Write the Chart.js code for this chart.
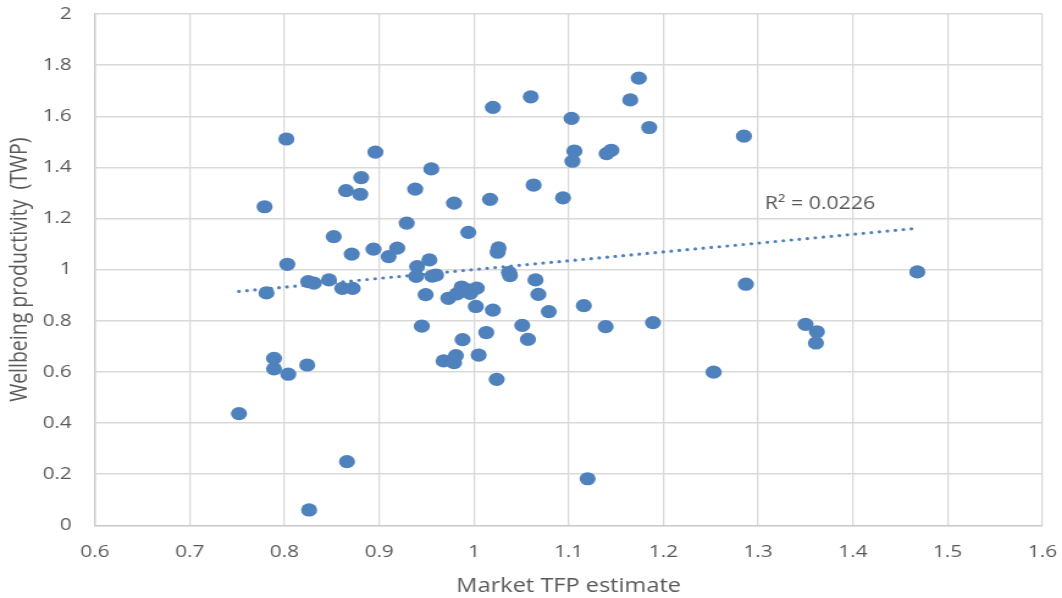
<!DOCTYPE html>
<html>
<head>
<meta charset="utf-8">
<title>Wellbeing productivity vs Market TFP</title>
<script src="https://cdn.jsdelivr.net/npm/chart.js@4.4.1/dist/chart.umd.min.js"></script>
<style>
  html, body { margin: 0; padding: 0; background: #ffffff; overflow: hidden; }
  #wrap { width: 1062px; height: 598px; overflow: hidden; }
  /* the chart is drawn on a narrower canvas and widened, giving the broad markers and text */
  #chart { display: block; transform: scaleX(1.2207); transform-origin: 0 0; }
</style>
</head>
<body>
<div id="wrap"><canvas id="chart" width="870" height="598"></canvas></div>
<script>
// Market TFP estimate (x) and Wellbeing productivity, TWP (y), one entry per observation
const marketTFP = [
  0.752, 0.779, 0.781, 0.789, 0.789, 0.802, 0.803, 0.804, 0.824, 0.825,
  0.831, 0.826, 0.847, 0.852, 0.861, 0.865, 0.866, 0.872, 0.871, 0.881,
  0.880, 0.894, 0.896, 0.910, 0.919, 0.929, 0.938, 0.940, 0.939, 0.945,
  0.949, 0.955, 0.953, 0.956, 0.960, 0.968, 0.973, 0.979, 0.981, 0.979,
  0.982, 0.987, 0.988, 0.994, 0.994, 0.996, 1.003, 1.002, 1.005, 1.013,
  1.017, 1.020, 1.020, 1.024, 1.026, 1.025, 1.037, 1.038, 1.051, 1.057,
  1.060, 1.063, 1.065, 1.068, 1.079, 1.094, 1.103, 1.106, 1.104, 1.116,
  1.120, 1.139, 1.140, 1.145, 1.165, 1.174, 1.185, 1.189, 1.253, 1.285,
  1.287, 1.350, 1.362, 1.361, 1.468
];
const wellbeingTWP = [
  0.437, 1.246, 0.909, 0.653, 0.612, 1.511, 1.021, 0.591, 0.627, 0.953,
  0.947, 0.060, 0.960, 1.129, 0.927, 1.309, 0.249, 0.927, 1.061, 1.360,
  1.295, 1.080, 1.460, 1.051, 1.084, 1.182, 1.315, 1.012, 0.974, 0.779,
  0.902, 1.394, 1.038, 0.975, 0.979, 0.643, 0.888, 1.260, 0.664, 0.636,
  0.905, 0.932, 0.726, 0.921, 1.146, 0.907, 0.928, 0.856, 0.666, 0.754,
  1.275, 1.635, 0.842, 0.571, 1.085, 1.068, 0.989, 0.977, 0.782, 0.727,
  1.676, 1.331, 0.960, 0.903, 0.836, 1.281, 1.592, 1.464, 1.424, 0.859,
  0.182, 0.777, 1.454, 1.467, 1.664, 1.749, 1.556, 0.793, 0.599, 1.522,
  0.943, 0.786, 0.757, 0.713, 0.991
];
const xTicks = [0.6, 0.7, 0.8, 0.9, 1, 1.1, 1.2, 1.3, 1.4, 1.5, 1.6];
const yTicks = [0, 0.2, 0.4, 0.6, 0.8, 1, 1.2, 1.4, 1.6, 1.8, 2];
const xTitle = 'Market TFP estimate';
const yTitle = 'Wellbeing productivity  (TWP)';
const trendText = 'R\u00B2 = 0.0226';

// least-squares linear trend over the observations
function linearFit(xs, ys) {
  const n = xs.length;
  let sx = 0, sy = 0, sxx = 0, sxy = 0;
  for (let i = 0; i < n; i++) { sx += xs[i]; sy += ys[i]; sxx += xs[i] * xs[i]; sxy += xs[i] * ys[i]; }
  const slope = (n * sxy - sx * sy) / (n * sxx - sx * sx);
  return { slope, intercept: (sy - slope * sx) / n };
}
const fit = linearFit(marketTFP, wellbeingTWP);
const xMin = Math.min(...marketTFP), xMax = Math.max(...marketTFP);
const trendPoints = [xMin, xMax].map(v => ({ x: v, y: fit.intercept + fit.slope * v }));
const points = marketTFP.map((v, i) => ({ x: v, y: wellbeingTWP[i] }));

const BLUE = '#4F81BD';
const TEXT = '#595959';
const GRID = '#D9D9D9';
const FONT = '"Open Sans", "Noto Sans", sans-serif';
const LABEL_ANCHOR = { x: 1.307, y: 1.257 };

const trendLabel = {
  id: 'trendLabel',
  afterDatasetsDraw(chart) {
    const { ctx, scales } = chart;
    ctx.save();
    ctx.font = '17.5px ' + FONT;
    ctx.fillStyle = TEXT;
    ctx.textAlign = 'left';
    ctx.textBaseline = 'middle';
    ctx.fillText(trendText, scales.x.getPixelForValue(LABEL_ANCHOR.x), scales.y.getPixelForValue(LABEL_ANCHOR.y));
    ctx.restore();
  }
};

// fixed axis sizes; the label overhang is left to the layout padding
function fixX(s) { s.height = 72.7; s.paddingLeft = 0; s.paddingRight = 0; }
function fixY(s) { s.width = 77.8; s.paddingTop = 0; s.paddingBottom = 0; }

new Chart(document.getElementById('chart'), {
  type: 'scatter',
  data: {
    datasets: [
      {
        label: 'TWP',
        data: points,
        backgroundColor: BLUE,
        borderWidth: 0,
        pointRadius: 6.6,
        pointHoverRadius: 6.6
      },
      {
        label: 'Linear trend',
        type: 'line',
        data: trendPoints,
        borderColor: BLUE,
        borderWidth: 3.2,
        borderDash: [0, 6.6],
        borderCapStyle: 'round',
        pointRadius: 0,
        fill: false
      }
    ]
  },
  options: {
    responsive: false,
    animation: false,
    devicePixelRatio: 1,
    layout: { padding: { top: 14, right: 16.1, bottom: 0, left: 0 } },
    plugins: { legend: { display: false }, tooltip: { enabled: false } },
    scales: {
      x: {
        type: 'linear',
        min: 0.6,
        max: 1.6,
        afterBuildTicks: s => { s.ticks = xTicks.map(v => ({ value: v })); },
        afterFit: fixX,
        grid: { color: GRID, lineWidth: 1.3, drawTicks: false },
        border: { color: '#C9C9C9', width: 1.3 },
        ticks: {
          color: TEXT,
          font: { family: FONT, size: 17 },
          padding: 17,
          maxRotation: 0,
          callback: v => String(v)
        },
        title: {
          display: true,
          text: xTitle,
          color: TEXT,
          font: { family: FONT, size: 19.3 },
          padding: { top: 0, bottom: 0 }
        }
      },
      y: {
        type: 'linear',
        min: 0,
        max: 2,
        afterBuildTicks: s => { s.ticks = yTicks.map(v => ({ value: v })); },
        afterFit: fixY,
        grid: { color: GRID, lineWidth: 1.5, drawTicks: false },
        border: { color: '#C9C9C9', width: 1.3 },
        ticks: {
          color: TEXT,
          font: { family: FONT, size: 17 },
          padding: 19,
          callback: v => String(v)
        },
        title: {
          display: true,
          text: yTitle,
          color: TEXT,
          font: { family: FONT, size: 19.5 },
          padding: { top: 4.5, bottom: 0 }
        }
      }
    }
  },
  plugins: [trendLabel]
});
</script>
</body>
</html>
